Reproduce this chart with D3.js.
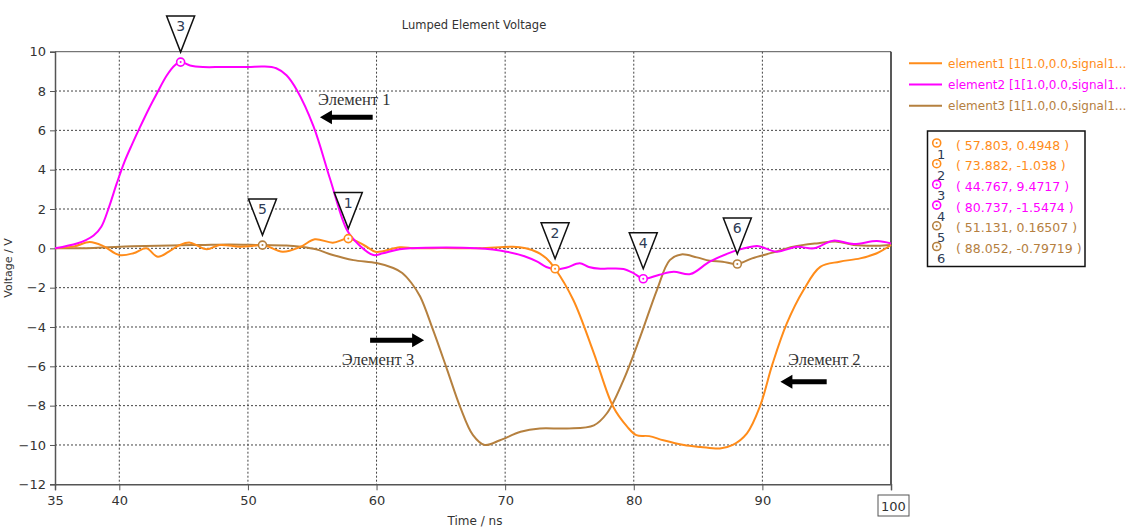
<!DOCTYPE html>
<html>
<head>
<meta charset="utf-8">
<script src="https://cdn.jsdelivr.net/npm/d3@7"></script>
<style>
  body { margin: 0; background: #fff; }
  svg { font-family: "DejaVu Sans", sans-serif; }
</style>
</head>
<body>
<svg id="chart" width="1126" height="528"></svg>
<script>
// element1 (orange)
const t1 = [35, 36.5, 37.7, 38.8, 40.0, 41.1, 42.1, 43.0, 44.0, 44.7, 45.5, 46.8, 47.8, 49.4, 50.3, 51.2, 52.7, 54.1, 55.2, 56.6, 57.803, 59.0, 59.9, 60.5, 61.8, 63, 65, 68, 70.6, 71.6, 72.5, 73.2, 73.882, 75.3, 76.9, 78.4, 79.5, 80.2, 81.2, 82.3, 83.9, 85.2, 86.7, 87.7, 88.8, 89.8, 90.8, 91.9, 93.2, 94.5, 96.0, 97.6, 98.9, 100];
const v1 = [0, 0.1, 0.32, 0.1, -0.34, -0.25, 0, -0.43, -0.1, 0.17, 0.29, -0.05, 0.17, 0.08, 0.12, 0.17, -0.17, 0.08, 0.46, 0.29, 0.4948, 0.17, -0.17, -0.15, 0.05, 0, 0.02, 0, 0.08, 0, -0.2, -0.51, -1.038, -2.63, -5.34, -8.06, -9.08, -9.5, -9.55, -9.76, -10.0, -10.1, -10.18, -10.0, -9.41, -8.06, -5.85, -3.82, -2.12, -0.94, -0.68, -0.51, -0.25, 0.17];

// element2 (magenta)
const t2 = [35, 36.7, 37.4, 38.0, 38.6, 39.2, 39.8, 40.4, 41.0, 41.6, 42.3, 42.9, 43.7, 44.3, 44.767, 45.5, 46.5, 48, 50, 51.2, 52.2, 53.0, 53.8, 55.1, 56.4, 57.7, 58.6, 59.75, 60.5, 61.8, 63.9, 67.8, 70.1, 71.5, 72.5, 73.2, 74.0, 74.8, 75.8, 76.5, 77.4, 78.4, 79.2, 80.0, 80.737, 82.0, 83.1, 84.4, 85.9, 87.7, 88.6, 89.6, 91.1, 92.7, 94.0, 95.5, 97.1, 98.9, 100];
const v2 = [0, 0.25, 0.42, 0.65, 1.1, 2.1, 3.3, 4.4, 5.3, 6.15, 7.1, 7.85, 8.8, 9.3, 9.4717, 9.3, 9.22, 9.22, 9.22, 9.25, 9.16, 8.8, 8.05, 6.2, 3.5, 0.93, 0.2, -0.34, -0.25, -0.05, 0.03, 0, -0.17, -0.4, -0.68, -0.95, -1.07, -0.97, -0.76, -0.95, -1.04, -1.02, -1.05, -1.27, -1.5474, -1.34, -1.19, -1.31, -0.68, -0.17, 0, 0.12, -0.17, 0.08, 0, 0.39, 0.22, 0.37, 0.25];

// element3 (brown)
const t3 = [35, 38, 41, 44, 46.3, 48.5, 51.131, 53, 54.1, 55.3, 56.6, 58.2, 60.0, 61.3, 62.0, 62.7, 63.4, 64.4, 65.5, 66.5, 67.5, 68.4, 69.6, 71.2, 72.7, 74.8, 76.9, 77.9, 79.2, 80.5, 81.8, 82.8, 83.7, 84.9, 85.9, 86.9, 88.052, 89.2, 90.8, 92.4, 94.2, 95.8, 97.1, 98.9, 100];
const v3 = [0, 0.02, 0.1, 0.15, 0.17, 0.2, 0.16507, 0.15, 0.08, -0.05, -0.34, -0.6, -0.75, -1.0, -1.25, -1.75, -2.46, -4.16, -6.19, -8.06, -9.5, -10.0, -9.76, -9.33, -9.16, -9.16, -9.0, -8.4, -6.7, -4.5, -2.12, -0.6, -0.31, -0.46, -0.63, -0.68, -0.79719, -0.51, -0.22, 0.08, 0.25, 0.34, 0.17, 0.13, 0.17];

const seriesNames = ["element1 [1[1.0,0.0,signal1...", "element2 [1[1.0,0.0,signal1...", "element3 [1[1.0,0.0,signal1..."];
const seriesColors = ["#ff8c1a", "#ff00ff", "#b5803f"];

// markers
const markerIds = [1, 2, 3, 4, 5, 6];
const markerSeries = [0, 0, 1, 1, 2, 2];
const markerT = [57.803, 73.882, 44.767, 80.737, 51.131, 88.052];
const markerV = [0.4948, -1.038, 9.4717, -1.5474, 0.16507, -0.79719];
const markerLabels = ["( 57.803, 0.4948 )", "( 73.882, -1.038 )", "( 44.767, 9.4717 )", "( 80.737, -1.5474 )", "( 51.131, 0.16507 )", "( 88.052, -0.79719 )"];

const xTicks = [35, 40, 50, 60, 70, 80, 90, 100];
const yTicks = [-12, -10, -8, -6, -4, -2, 0, 2, 4, 6, 8, 10];

// annotations: text anchor (t, v), arrow from a0 to a1 at av
const notes = [
  { text: "Элемент 1", t: 55.45, v: 7.29, a0: 59.7, a1: 55.6, av: 6.67 },
  { text: "Элемент 3", t: 57.3, v: -5.94, a0: 59.5, a1: 63.7, av: -4.67 },
  { text: "Элемент 2", t: 92.0, v: -5.94, a0: 95.0, a1: 91.4, av: -6.79 }
];

const svg = d3.select("#chart");
const x = d3.scaleLinear().domain([35, 100]).range([55, 891]);
const y = d3.scaleLinear().domain([-12, 10]).range([484.3, 51.7]);

// grid
svg.append("g").selectAll("line")
  .data(xTicks.filter(d => d > 35 && d < 100))
  .enter().append("line")
  .attr("x1", d => x(d)).attr("x2", d => x(d))
  .attr("y1", y(10)).attr("y2", y(-12))
  .attr("stroke", "#444").attr("stroke-dasharray", "2,2");
svg.append("g").selectAll("line")
  .data(yTicks.filter(d => d > -12 && d < 10))
  .enter().append("line")
  .attr("x1", x(35)).attr("x2", x(100))
  .attr("y1", d => y(d)).attr("y2", d => y(d))
  .attr("stroke", "#444").attr("stroke-dasharray", "2,2");

// frame
svg.append("line").attr("x1", x(35)).attr("x2", x(100)).attr("y1", y(10)).attr("y2", y(10)).attr("stroke", "#555");
svg.append("line").attr("x1", x(100)).attr("x2", x(100)).attr("y1", y(10)).attr("y2", y(-12)).attr("stroke", "#222").attr("stroke-width", 1.5);

// axes
const yAxis = svg.append("g")
  .attr("transform", `translate(${x(35)},0)`)
  .call(d3.axisLeft(y).tickValues(yTicks).tickSize(5).tickPadding(4));
const xAxis = svg.append("g")
  .attr("transform", `translate(0,${y(-12)})`)
  .call(d3.axisBottom(x).tickValues(xTicks).tickSize(6).tickPadding(5)
    .tickFormat(d => d === 100 ? "" : d));
[yAxis, xAxis].forEach(g => {
  g.select(".domain").attr("stroke", "#555").attr("stroke-width", 1.5);
  g.selectAll(".tick line").attr("stroke", "#555");
  g.selectAll("text").attr("font-size", 13).attr("fill", "#333")
    .attr("font-family", "DejaVu Sans, sans-serif");
});

// boxed 100 label
svg.append("rect").attr("x", x(100) - 13).attr("y", 495).attr("width", 31).attr("height", 21)
  .attr("fill", "#fff").attr("stroke", "#555");
svg.append("text").attr("x", x(100) + 2.5).attr("y", 510.5).attr("text-anchor", "middle")
  .attr("font-size", 13).attr("fill", "#333").text("100");

// titles
svg.append("text").attr("x", 474).attr("y", 29).attr("text-anchor", "middle")
  .attr("font-size", 11.5).attr("fill", "#333").text("Lumped Element Voltage");
svg.append("text").attr("x", 475).attr("y", 525).attr("text-anchor", "middle")
  .attr("font-size", 12).attr("fill", "#333").text("Time / ns");
svg.append("text").attr("transform", "translate(12,268) rotate(-90)").attr("text-anchor", "middle")
  .attr("font-size", 11).attr("fill", "#333").text("Voltage / V");

// lines
const seriesData = [
  t1.map((t, i) => [t, v1[i]]),
  t2.map((t, i) => [t, v2[i]]),
  t3.map((t, i) => [t, v3[i]])
];
const line = d3.line().x(d => x(d[0])).y(d => y(d[1])).curve(d3.curveCatmullRom.alpha(0.5));
svg.append("g").selectAll("path")
  .data([2, 0, 1])
  .enter().append("path")
  .attr("d", i => line(seriesData[i]))
  .attr("fill", "none")
  .attr("stroke", i => seriesColors[i])
  .attr("stroke-width", 2);

// markers on curves
function markerSymbol(g, cx, cy, color) {
  g.append("circle").attr("cx", cx).attr("cy", cy).attr("r", 4)
    .attr("fill", "#fff").attr("stroke", color).attr("stroke-width", 1.6);
  g.append("circle").attr("cx", cx).attr("cy", cy).attr("r", 1).attr("fill", color);
}
const mk = svg.append("g");
markerIds.forEach((id, i) => {
  const px = x(markerT[i]), py = y(markerV[i]);
  const apex = py - 10;
  mk.append("path")
    .attr("d", `M${px - 14},${apex - 36}L${px + 14},${apex - 36}L${px},${apex}Z`)
    .attr("fill", "#fff").attr("stroke", "#111").attr("stroke-width", 1.5);
  mk.append("text").attr("x", px).attr("y", apex - 21).attr("text-anchor", "middle")
    .attr("font-size", 14).attr("fill", "#2e3b55").text(id);
  markerSymbol(mk, px, py, seriesColors[markerSeries[i]]);
});

// annotations
const ann = svg.append("g");
notes.forEach(n => {
  ann.append("text").attr("x", x(n.t)).attr("y", y(n.v))
    .style("font-family", "'Liberation Serif', serif").attr("font-size", 16.5)
    .attr("fill", "#333").text(n.text);
  const xa = x(n.a0), xb = x(n.a1), ya = y(n.av);
  const dir = xb > xa ? 1 : -1;
  const hb = xb - dir * 12;
  ann.append("path")
    .attr("d", `M${xa},${ya - 2.5}L${hb},${ya - 2.5}L${hb},${ya - 7}L${xb},${ya}L${hb},${ya + 7}L${hb},${ya + 2.5}L${xa},${ya + 2.5}Z`)
    .attr("fill", "#000");
});

// legend
const lg = svg.append("g");
seriesNames.forEach((name, i) => {
  const ly = 63.3 + i * 21.2;
  lg.append("line").attr("x1", 909).attr("x2", 942).attr("y1", ly).attr("y2", ly)
    .attr("stroke", seriesColors[i]).attr("stroke-width", 2);
  lg.append("text").attr("x", 948).attr("y", ly + 4.5).attr("font-size", 12)
    .attr("fill", seriesColors[i]).text(name);
});

// marker readout box
const box = svg.append("g");
box.append("rect").attr("x", 927.5).attr("y", 131).attr("width", 157.5).attr("height", 135.5)
  .attr("fill", "#fff").attr("stroke", "#111").attr("stroke-width", 1.5);
markerIds.forEach((id, i) => {
  const ry = 145 + i * 20.7;
  const c = seriesColors[markerSeries[i]];
  markerSymbol(box, 936.7, ry - 2, c);
  box.append("text").attr("x", 937).attr("y", ry + 14).attr("font-size", 13)
    .attr("fill", "#2e3b55").text(id);
  box.append("text").attr("x", 956).attr("y", ry + 4.5).attr("font-size", 12.5)
    .attr("fill", c).text(markerLabels[i]);
});
</script>
</body>
</html>
